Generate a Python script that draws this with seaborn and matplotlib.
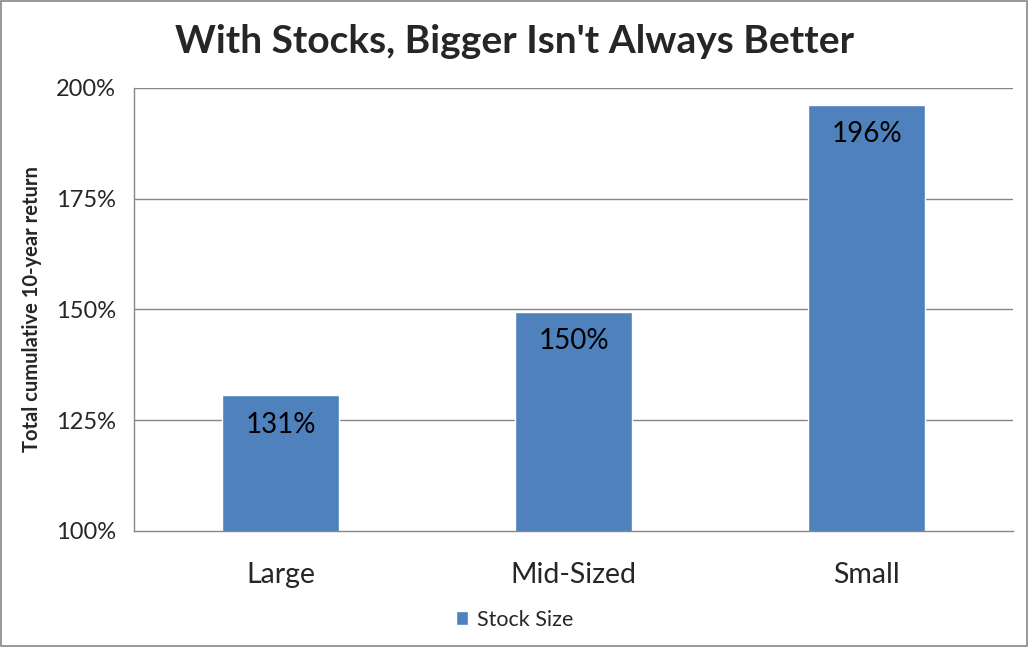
import matplotlib
matplotlib.use('Agg')
import matplotlib.pyplot as plt
import seaborn as sns
import pandas as pd
from matplotlib.patches import Rectangle
from matplotlib.ticker import FixedLocator, PercentFormatter

sizes = ['Large', 'Mid-Sized', 'Small']
returns = [130.6, 149.5, 196.2]
series_name = 'Stock Size'
y_ticks = [100, 125, 150, 175, 200]

sns.set_style('white')
plt.rcParams['font.family'] = ['Lato', 'DejaVu Sans']

df = pd.DataFrame({'size': sizes, 'ret': returns, 'series': series_name})

fig = plt.figure(figsize=(10.29, 6.47), dpi=100)
ax = fig.add_axes([0.1302, 0.1793, 0.8543, 0.6847])

# grid first, bars on top
for t in y_ticks[1:]:
    ax.axhline(t, color='#868686', lw=1, zorder=0)

sns.barplot(data=df, x='size', y='ret', hue='series', palette=['#4F81BD'],
            width=0.4, saturation=1, ax=ax, zorder=2, legend=True)

ax.set_ylim(100, 200)
ax.set_xlim(-0.5, 2.5)
ax.set_yticks(y_ticks)
ax.yaxis.set_major_formatter(PercentFormatter(decimals=0))
ax.tick_params(axis='y', labelsize=17, length=5, color='#868686', direction='out', pad=8)
ax.tick_params(axis='x', which='major', labelsize=20.5, length=0, pad=22)
ax.xaxis.set_minor_locator(FixedLocator([0.5, 1.5, 2.5]))
ax.tick_params(axis='x', which='minor', length=9, color='#868686', direction='in')

for s in ['top', 'right']:
    ax.spines[s].set_visible(False)
for s in ['left', 'bottom']:
    ax.spines[s].set_color('#868686')
    ax.spines[s].set_linewidth(1)

ax.set_xlabel('')
ax.set_ylabel('Total cumulative 10-year return', fontsize=14.5, fontweight='bold', labelpad=10)

for i, v in enumerate(returns):
    ax.text(i, v - 6.6, f'{v:.0f}%', ha='center', va='center', fontsize=20, color='black', zorder=3)

fig.text(0.5, 0.936, "With Stocks, Bigger Isn't Always Better", ha='center', va='center',
         fontsize=28, fontweight='bold')

leg = ax.legend(loc='center', bbox_to_anchor=(0.5, 0.042), bbox_transform=fig.transFigure,
                frameon=False, fontsize=15.5, handlelength=0.6, handleheight=0.6,
                handletextpad=0.4)

fig.patches.append(Rectangle((0.001, 0.001), 0.997, 0.997, transform=fig.transFigure,
                             fill=False, edgecolor='#868686', lw=1.2))

fig.savefig('out.png', dpi=100)
